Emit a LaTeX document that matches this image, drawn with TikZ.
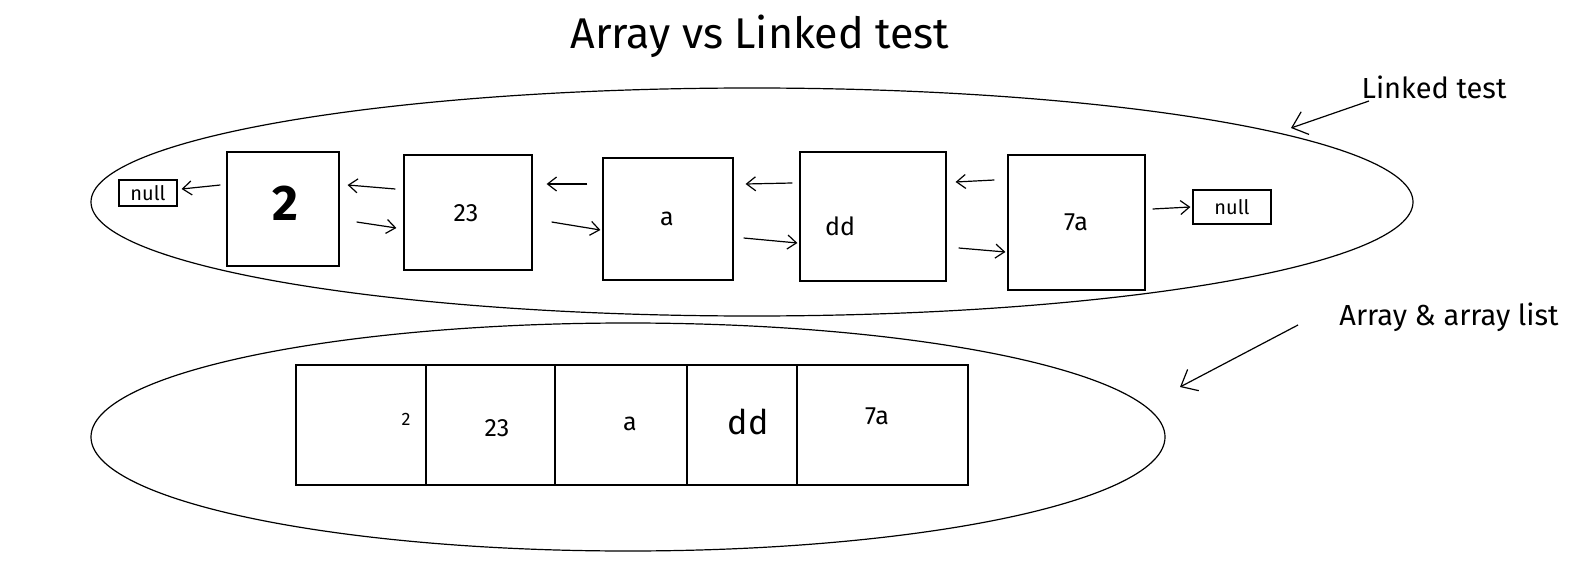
\documentclass[tikz,border=0pt]{standalone}
\usepackage{fontspec}
\setmainfont{Fira Sans}
\usepackage{tikz}
\usetikzlibrary{arrows.meta,shapes.geometric}

\begin{document}
\begin{tikzpicture}[
    x=1pt, y=-1pt, line width=1.2pt,
    box/.style={rectangle, draw, inner sep=0pt},
    nullbox/.style={rectangle, draw, inner sep=0pt, font=\fontsize{20}{20}\selectfont},
    area/.style={ellipse, draw, inner sep=0pt},
    val/.style={font=\fontsize{25}{25}\selectfont},
    note/.style={font=\fontsize{29}{29}\selectfont},
    arrow/.style={-{Straight Barb[length=9pt,width=14pt]}},
    bigarrow/.style={-{Straight Barb[length=14pt,width=24pt]}}
]
    \useasboundingbox (0,0) rectangle (1584,564);

    % Title
    \node[font=\fontsize{43}{43}\selectfont] (title) at (760,36) {Array vs Linked test};

    % Areas
    \node[area, minimum width=1322pt, minimum height=228pt] (linkedarea) at (752,202) {};
    \node[area, minimum width=1074pt, minimum height=228pt] (arrayarea) at (628,437) {};

    % Linked nodes
    \node[nullbox, minimum width=58pt, minimum height=26pt] (nullL) at (148,193) {null};
    \node[box, minimum width=112pt, minimum height=114pt] (b2) at (283,209) {};
    \node[box, minimum width=128pt, minimum height=115pt] (b23) at (468,212.5) {};
    \node[box, minimum width=130pt, minimum height=122pt] (ba) at (668,219) {};
    \node[box, minimum width=146pt, minimum height=129pt] (bdd) at (873,216.5) {};
    \node[box, minimum width=137pt, minimum height=135pt] (b7a) at (1076.5,222.5) {};
    \node[nullbox, minimum width=78pt, minimum height=34pt] (nullR) at (1232,207) {null};

    \node[font=\fontsize{50}{50}\selectfont\bfseries] (t2) at (285,203) {2};
    \node[val] (t23) at (466,213) {23};
    \node[val] (ta) at (667,219) {a};
    \node[val] (tdd) at (840,226) {dd};
    \node[val] (t7a) at (1076,222) {7a};

    % Links
    \draw[arrow] ([xshift=-6pt,yshift=24pt]b2.west) -- ([xshift=4pt,yshift=4pt]nullL.east);
    \draw[arrow] ([xshift=-8pt,yshift=23.5pt]b23.west) -- ([xshift=8pt,yshift=24pt]b2.east);
    \draw[arrow] ([xshift=17pt,yshift=-13pt]b2.east) -- ([xshift=-7pt,yshift=-15.5pt]b23.west);
    \draw[arrow] ([xshift=-15pt,yshift=35pt]ba.west) -- ([xshift=14pt,yshift=28.5pt]b23.east);
    \draw[arrow] ([xshift=19pt,yshift=-9.5pt]b23.east) -- ([xshift=-2pt,yshift=-11pt]ba.west);
    \draw[arrow] ([xshift=-7pt,yshift=33.5pt]bdd.west) -- ([xshift=12pt,yshift=35pt]ba.east);
    \draw[arrow] ([xshift=10pt,yshift=-19pt]ba.east) -- ([xshift=-2pt,yshift=-26.5pt]bdd.west);
    \draw[arrow] ([xshift=-13pt,yshift=42.5pt]b7a.west) -- ([xshift=9pt,yshift=34.5pt]bdd.east);
    \draw[arrow] ([xshift=12pt,yshift=-31.5pt]bdd.east) -- ([xshift=-2pt,yshift=-29.5pt]b7a.west);
    \draw[arrow] ([xshift=7pt,yshift=13.5pt]b7a.east) -- ([xshift=-2pt]nullR.west);

    % Array cells
    \node[box, minimum width=130pt, minimum height=120pt] (c1) at (361,425) {};
    \node[box, minimum width=129pt, minimum height=120pt] (c2) at (490.5,425) {};
    \node[box, minimum width=132pt, minimum height=120pt] (c3) at (621,425) {};
    \node[box, minimum width=110pt, minimum height=120pt] (c4) at (742,425) {};
    \node[box, minimum width=171pt, minimum height=120pt] (c5) at (882.5,425) {};

    \node[font=\fontsize{18}{18}\selectfont] (a1) at (406,419) {2};
    \node[val] (a2) at (497,428) {23};
    \node[val] (a3) at (630,424) {a};
    \node[font=\fontsize{34}{34}\selectfont] (a4) at (748,422) {dd};
    \node[val] (a5) at (877,416) {7a};

    % Notes
    \node[note] (linkedlbl) at (1434,87) {Linked test};
    \node[note] (arraylbl) at (1449,317) {Array \& array list};
    \coordinate (linkedtip) at (1291,128);
    \coordinate (arraytip) at (1180,387);
    \draw[bigarrow] (1369,101) -- (linkedtip);
    \draw[bigarrow] (1298,325) -- (arraytip);
\end{tikzpicture}
\end{document}
